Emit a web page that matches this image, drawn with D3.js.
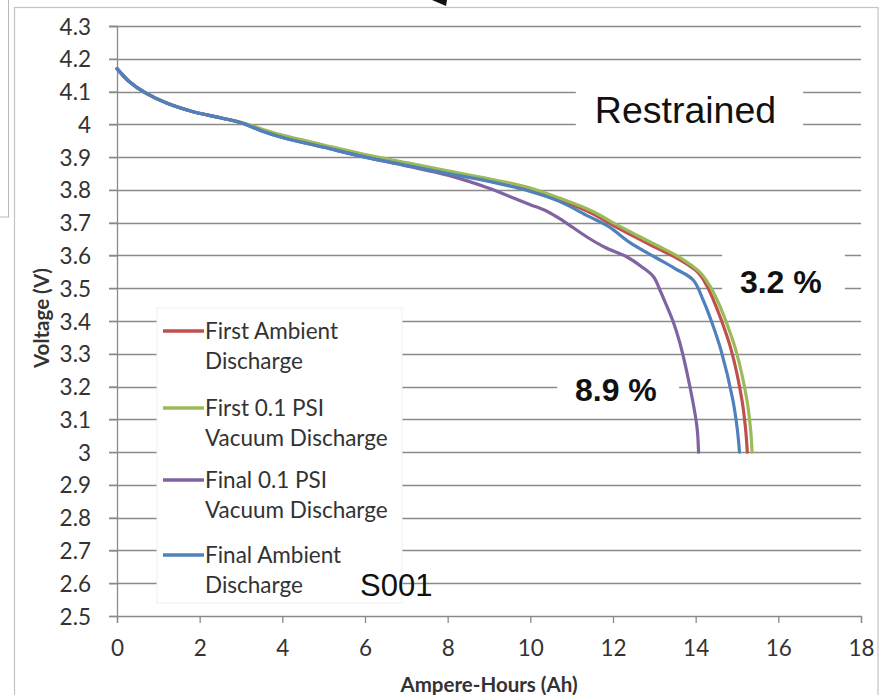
<!DOCTYPE html>
<html>
<head>
<meta charset="utf-8">
<script src="https://cdn.jsdelivr.net/npm/d3@7"></script>
<style>
  html, body { margin: 0; padding: 0; background: #fff; }
  svg { display: block; }
</style>
</head>
<body>
<svg id="chart" width="883" height="695"></svg>
<script>
// Discharge curves: capacity (Ah) vs cell voltage (V)
const seriesNames = [
  "First Ambient Discharge",
  "First 0.1 PSI Vacuum Discharge",
  "Final 0.1 PSI Vacuum Discharge",
  "Final Ambient Discharge"
];
const seriesColors = ["#C0504D", "#9BBB59", "#8064A2", "#4F81BD"];

const firstAmbientAh = [0, 0.3, 0.7, 1.2, 1.8, 2.5, 3.0, 3.5, 4.0, 5.0, 6.0, 7.0, 8.0, 9.0, 10.0, 10.7, 11.5, 12.1, 12.6, 13.1, 13.6, 14.05, 14.26, 14.43, 14.62, 14.86, 15.12, 15.21, 15.25];
const firstAmbientV  = [4.17, 4.13, 4.095, 4.065, 4.04, 4.02, 4.005, 3.983, 3.964, 3.934, 3.905, 3.879, 3.853, 3.828, 3.800, 3.770, 3.728, 3.685, 3.652, 3.620, 3.588, 3.549, 3.510, 3.464, 3.403, 3.312, 3.159, 3.067, 3.0];

const firstVacuumAh = [0, 0.3, 0.7, 1.2, 1.8, 2.5, 3.0, 3.5, 4.0, 5.0, 6.0, 7.0, 8.0, 9.0, 10.0, 10.7, 11.5, 12.1, 12.6, 13.1, 13.6, 14.1, 14.33, 14.52, 14.72, 14.97, 15.24, 15.33, 15.365];
const firstVacuumV  = [4.17, 4.13, 4.095, 4.065, 4.04, 4.02, 4.006, 3.986, 3.967, 3.937, 3.908, 3.883, 3.858, 3.834, 3.806, 3.775, 3.735, 3.693, 3.660, 3.628, 3.595, 3.549, 3.510, 3.464, 3.403, 3.312, 3.159, 3.067, 3.0];

const finalVacuumAh = [0, 0.3, 0.7, 1.2, 1.8, 2.5, 3.0, 3.5, 4.0, 5.0, 6.0, 7.0, 8.0, 9.0, 9.5, 10.0, 10.4, 10.8, 11.36, 11.8, 12.33, 12.7, 12.98, 13.15, 13.24, 13.45, 13.62, 13.86, 14.03, 14.07];
const finalVacuumV  = [4.17, 4.13, 4.095, 4.065, 4.04, 4.02, 4.005, 3.98, 3.96, 3.93, 3.90, 3.873, 3.845, 3.805, 3.780, 3.755, 3.735, 3.705, 3.657, 3.625, 3.596, 3.565, 3.535, 3.49, 3.464, 3.40, 3.332, 3.2, 3.078, 3.0];

const finalAmbientAh = [0, 0.3, 0.7, 1.2, 1.8, 2.5, 3.0, 3.5, 4.0, 5.0, 6.0, 7.0, 8.0, 9.0, 10.0, 10.7, 11.4, 11.9, 12.4, 13.0, 13.5, 13.94, 14.18, 14.37, 14.61, 14.9, 15.01, 15.06];
const finalAmbientV  = [4.17, 4.13, 4.095, 4.065, 4.04, 4.02, 4.005, 3.98, 3.96, 3.93, 3.90, 3.875, 3.850, 3.826, 3.795, 3.765, 3.720, 3.688, 3.640, 3.596, 3.560, 3.525, 3.464, 3.403, 3.312, 3.159, 3.067, 3.0];

const xTicks = [0, 2, 4, 6, 8, 10, 12, 14, 16, 18];
const yTicks = [2.5, 2.6, 2.7, 2.8, 2.9, 3.0, 3.1, 3.2, 3.3, 3.4, 3.5, 3.6, 3.7, 3.8, 3.9, 4.0, 4.1, 4.2, 4.3];
const yTickLabels = ["2.5", "2.6", "2.7", "2.8", "2.9", "3", "3.1", "3.2", "3.3", "3.4", "3.5", "3.6", "3.7", "3.8", "3.9", "4", "4.1", "4.2", "4.3"];

const xTitle = "Ampere-Hours (Ah)";
const yTitle = "Voltage (V)";
const annotations = [
  { text: "Restrained", x: 11.56, y: 4.004, bold: false, size: 37.5, box: [11.1, 16.6, 4.15, 3.96] },
  { text: "3.2 %", x: 15.07, y: 3.485, bold: true, size: 32, box: [14.64, 17.61, 3.66, 3.42] },
  { text: "8.9 %", x: 11.08, y: 3.156, bold: true, size: 32, box: [10.65, 13.6, 3.24, 3.135] },
  { text: "S001", x: 5.88, y: 2.562, bold: false, size: 31, box: null }
];

const series = [
  { ah: firstAmbientAh, v: firstAmbientV },
  { ah: firstVacuumAh, v: firstVacuumV },
  { ah: finalVacuumAh, v: finalVacuumV },
  { ah: finalAmbientAh, v: finalAmbientV }
].map((s, i) => ({
  name: seriesNames[i],
  color: seriesColors[i],
  points: s.ah.map((a, j) => ({ ah: a, v: s.v[j] }))
}));

const svg = d3.select("#chart");

const x = d3.scaleLinear().domain([0, 18]).range([117, 861]);
const y = d3.scaleLinear().domain([2.5, 4.3]).range([616, 26]);

const labelFont = "Lato, 'Open Sans', sans-serif";
const textGray = "#333333";
const gridGray = "#8a8a8a";

// Neighbouring chart frame peeking in at the top-left corner
svg.append("rect")
  .attr("x", -10).attr("y", -10).attr("width", 18.5).attr("height", 227)
  .attr("fill", "#fff").attr("stroke", "#b8b8b8").attr("stroke-width", 1);

// Outer chart frame
svg.append("defs").append("clipPath").attr("id", "frameClip")
  .append("rect").attr("x", 14).attr("y", 7).attr("width", 864).attr("height", 700);
svg.append("rect")
  .attr("x", 14.5).attr("y", 7.5).attr("width", 863.5).attr("height", 700)
  .attr("fill", "#fff").attr("stroke", "#c4c4c4").attr("stroke-width", 1.2);

// Small arrowhead at the top edge
svg.append("path")
  .attr("d", "M432,0 L447,0 L446,6 Z")
  .attr("fill", "#111");

const g = svg.append("g").attr("clip-path", "url(#frameClip)");

// Horizontal gridlines (extending across the y tick marks)
g.append("g")
  .selectAll("line")
  .data(yTicks.slice(1))
  .join("line")
  .attr("x1", 109).attr("x2", x(18))
  .attr("y1", d => Math.round(y(d)) + 0.5).attr("y2", d => Math.round(y(d)) + 0.5)
  .attr("stroke", gridGray).attr("stroke-width", 1.3);

// Axes
const yAxis = d3.axisLeft(y).tickValues(yTicks)
  .tickFormat((d, i) => yTickLabels[i]).tickSize(8);
const xAxis = d3.axisBottom(x).tickValues(xTicks)
  .tickFormat(d3.format("d")).tickSize(7);

const yG = g.append("g").attr("transform", `translate(${x(0)},0)`).call(yAxis);
const xG = g.append("g").attr("transform", `translate(0,${y(2.5)})`).call(xAxis);

[yG, xG].forEach(ax => {
  ax.select(".domain").attr("stroke", gridGray).attr("stroke-width", 1.3);
  ax.selectAll(".tick line").attr("stroke", gridGray).attr("stroke-width", 1.3);
  ax.selectAll(".tick text")
    .attr("fill", textGray)
    .style("font-family", labelFont)
    .style("font-size", "22.5px");
});
yG.selectAll(".tick text").attr("x", -26).attr("dy", "0.36em");
xG.selectAll(".tick text").attr("y", 24).attr("dy", "0.71em");

// White backing behind the annotation labels
annotations.forEach(a => {
  if (a.box) {
    g.append("rect")
      .attr("x", x(a.box[0])).attr("y", y(a.box[2]))
      .attr("width", x(a.box[1]) - x(a.box[0]))
      .attr("height", y(a.box[3]) - y(a.box[2]))
      .attr("fill", "#fff");
  }
});

// Legend box
const legend = g.append("g");
legend.append("rect")
  .attr("x", 157).attr("y", 308).attr("width", 245).attr("height", 295)
  .attr("fill", "#fff").attr("stroke", "#f0f0f0").attr("stroke-width", 1);

const legendRows = [331, 408, 480, 555];
const legendLines = [
  ["First Ambient", "Discharge"],
  ["First 0.1 PSI", "Vacuum Discharge"],
  ["Final 0.1 PSI", "Vacuum Discharge"],
  ["Final Ambient", "Discharge"]
];
series.forEach((s, i) => {
  const ly = legendRows[i];
  legend.append("line")
    .attr("x1", 163).attr("x2", 204).attr("y1", ly).attr("y2", ly)
    .attr("stroke", s.color).attr("stroke-width", 3.5);
  const t = legend.append("text")
    .attr("x", 205).attr("y", ly + 8)
    .attr("fill", textGray)
    .style("font-family", labelFont)
    .style("font-size", "22.5px");
  legendLines[i].forEach((ln, k) => {
    t.append("tspan").attr("x", 205).attr("dy", k === 0 ? 0 : 30).text(ln);
  });
});

// Discharge curves
const line = d3.line()
  .x(d => x(d.ah))
  .y(d => y(d.v))
  .curve(d3.curveCatmullRom.alpha(0.5));

g.append("g")
  .selectAll("path")
  .data(series)
  .join("path")
  .attr("d", d => line(d.points))
  .attr("fill", "none")
  .attr("stroke", d => d.color)
  .attr("stroke-width", 3.2)
  .attr("stroke-linejoin", "round")
  .attr("stroke-linecap", "round");

// Annotation text
annotations.forEach(a => {
  g.append("text")
    .attr("x", x(a.x)).attr("y", y(a.y))
    .attr("fill", "#111")
    .style("font-family", "'Liberation Sans', Arial, sans-serif")
    .style("font-weight", a.bold ? "bold" : "normal")
    .style("font-size", a.size + "px")
    .text(a.text);
});

// Axis titles
g.append("text")
  .attr("x", 489).attr("y", 692)
  .attr("text-anchor", "middle")
  .attr("fill", textGray)
  .style("font-family", labelFont)
  .style("font-weight", "bold")
  .style("font-size", "20.5px")
  .text(xTitle);

g.append("text")
  .attr("transform", "translate(49,318) rotate(-90)")
  .attr("text-anchor", "middle")
  .attr("fill", textGray)
  .style("font-family", labelFont)
  .style("font-weight", "bold")
  .style("font-size", "20.5px")
  .text(yTitle);
</script>
</body>
</html>
